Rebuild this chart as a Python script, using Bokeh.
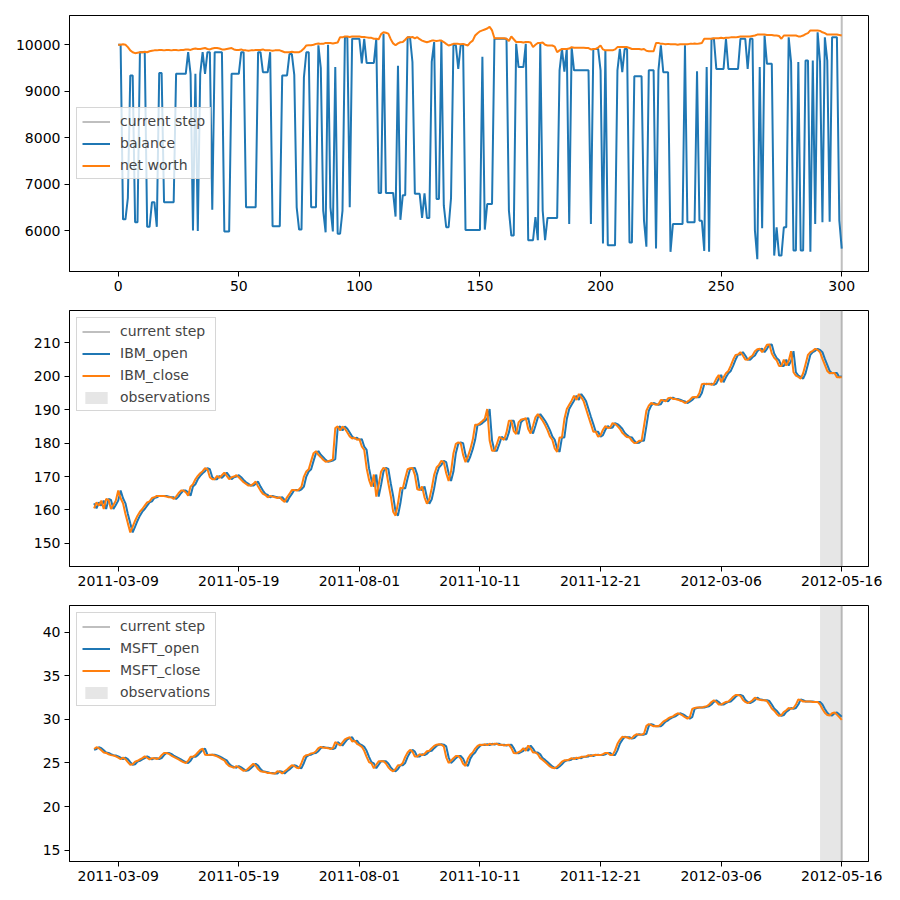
from bokeh.plotting import figure
from bokeh.models import Range1d, FixedTicker, Legend, LegendItem
from bokeh.layouts import column
from bokeh.embed import file_html
from bokeh.resources import INLINE

BLUE = "#1f77b4"
ORANGE = "#ff7f0e"
FONT = "DejaVu Sans"

current_step = 300
window_size = 10
balance_steps = list(range(0, 301))
stock_steps = list(range(-10, 301))
step_ticks = [0, 50, 100, 150, 200, 250, 300]
date_labels = ["2011-03-09", "2011-05-19", "2011-08-01", "2011-10-11",
               "2011-12-21", "2012-03-06", "2012-05-16"]
balance_yticks = [6000, 7000, 8000, 9000, 10000]
ibm_yticks = [150, 160, 170, 180, 190, 200, 210]
msft_yticks = [15, 20, 25, 30, 35, 40]

balance = [
    10000, 10000, 6240, 6240, 6700, 9340, 9340, 6180, 6180, 9840,
    9840, 9840, 6080, 6080, 6610, 6610, 6080, 9390, 9390, 6610,
    6610, 6610, 6610, 6610, 9375, 9375, 9375, 9375, 9375, 9840,
    9375, 6000, 9375, 5990, 9375, 9840, 9375, 9840, 9840, 6450,
    9840, 9840, 9840, 9840, 5980, 5980, 5980, 9375, 9375, 9375,
    9375, 9840, 9840, 6500, 6500, 6500, 6500, 6500, 9840, 9840,
    9410, 9410, 9410, 9840, 6090, 6090, 6090, 6090, 9340, 9340,
    9340, 9800, 9800, 9350, 6500, 6020, 6020, 9300, 9840, 9840,
    6500, 6500, 6500, 9990, 9500, 6430, 5960, 10000, 6500, 5980,
    9520, 5930, 5930, 6430, 10160, 10160, 6500, 10130, 10130, 10130,
    10130, 9600, 10130, 9610, 9610, 9610, 9610, 10130, 6810, 6810,
    10240, 6810, 6810, 6810, 6810, 6300, 9550, 6230, 6760, 6760,
    10160, 10160, 9630, 6790, 6790, 6790, 6270, 6800, 6270, 6270,
    9630, 10060, 6680, 6680, 10090, 6540, 6070, 6070, 6700, 10000,
    9990, 9480, 9990, 9990, 6010, 6010, 6010, 6010, 6010, 6010,
    6010, 9740, 6020, 6570, 6570, 6570, 10130, 10130, 10130, 10130,
    10130, 10130, 6430, 5890, 5890, 10020, 9520, 9520, 9520, 10020,
    5790, 5790, 5790, 6290, 5790, 10020, 6430, 5790, 6270, 6270,
    6270, 6270, 6270, 9450, 9910, 9420, 9910, 6140, 9950, 9450,
    9450, 9450, 9450, 9450, 9450, 9450, 6140, 9910, 9910, 9910,
    9450, 5720, 9880, 5680, 5680, 5680, 5680, 9450, 9910, 9410,
    9910, 9910, 5740, 5740, 9320, 9320, 9320, 9320, 6220, 5650,
    9450, 9450, 9450, 5610, 9450, 9990, 9410, 9410, 9410, 5540,
    6140, 6140, 6140, 6140, 6140, 9990, 6180, 6180, 6180, 6180,
    9430, 6210, 6210, 5560, 9520, 5540, 10130, 10130, 9480, 9480,
    9480, 9480, 10130, 9480, 9480, 9480, 9480, 9480, 10130, 10130,
    10130, 9480, 10130, 10130, 6000, 5380, 9520, 6050, 10200, 9590,
    9590, 9590, 5460, 6070, 5460, 5460, 6070, 6070, 10160, 9630,
    5570, 5570, 9630, 5570, 5570, 9660, 9660, 5540, 9660, 6140,
    10270, 9630, 6180, 10160, 9660, 6190, 10160, 10160, 10160, 6220,
    5610,
]

net_worth = [
    10000, 10000, 10010, 10000, 9950, 9880, 9840, 9820, 9830, 9840,
    9840, 9850, 9840, 9860, 9870, 9880, 9880, 9890, 9890, 9880,
    9890, 9890, 9880, 9890, 9890, 9880, 9890, 9890, 9900, 9900,
    9890, 9910, 9920, 9910, 9910, 9920, 9930, 9910, 9900, 9920,
    9930, 9930, 9920, 9900, 9900, 9910, 9920, 9930, 9900, 9890,
    9890, 9900, 9880, 9880, 9870, 9880, 9880, 9890, 9890, 9890,
    9900, 9880, 9880, 9880, 9870, 9880, 9880, 9880, 9860, 9840,
    9840, 9840, 9850, 9840, 9840, 9840, 9870, 9920, 9985, 9990,
    9990, 10000, 10020, 10030, 10020, 10020, 10040, 10040, 10040, 10030,
    10040, 10050, 10165, 10160, 10180, 10180, 10170, 10180, 10180, 10180,
    10180, 10170, 10170, 10160, 10150, 10150, 10130, 10130, 10120, 10230,
    10270, 10260, 10240, 10120, 10030, 9990, 10030, 10055, 10060, 10110,
    10165, 10160, 10170, 10140, 10165, 10120, 10090, 10070, 10055, 10070,
    10090, 10090, 10080, 10090, 10090, 10060, 10020, 9985, 10000, 10020,
    10020, 10020, 10010, 10020, 10000, 9985, 10050, 10090, 10200, 10250,
    10290, 10310, 10330, 10350, 10390, 10310, 10140, 10140, 10140, 10140,
    10140, 10130, 10080, 10180, 10120, 10060, 10060, 10060, 10050, 10060,
    10060, 10050, 9950, 10000, 10040, 10040, 10050, 10000, 9985, 9985,
    9985, 9960, 9840, 9880, 9910, 9910, 9910, 9920, 9950, 9935,
    9935, 9935, 9935, 9935, 9930, 9930, 9900, 9910, 9910, 9940,
    9985, 9900, 9880, 9880, 9880, 9880, 9900, 9950, 9950, 9950,
    9950, 9950, 9930, 9910, 9910, 9910, 9910, 9900, 9910, 9870,
    9860, 9860, 9860, 10040, 10040, 10020, 10020, 10010, 10020, 10010,
    10010, 10010, 10000, 10010, 10010, 10010, 10010, 10020, 10020, 10030,
    10020, 10030, 10040, 10130, 10130, 10130, 10130, 10140, 10140, 10140,
    10150, 10140, 10150, 10150, 10160, 10160, 10160, 10170, 10180, 10180,
    10180, 10180, 10180, 10190, 10200, 10220, 10220, 10220, 10220, 10210,
    10210, 10210, 10200, 10200, 10190, 10130, 10200, 10200, 10200, 10200,
    10200, 10200, 10180, 10180, 10200, 10230, 10250, 10310, 10310, 10310,
    10310, 10300, 10270, 10250, 10220, 10220, 10220, 10220, 10220, 10210,
    10200,
]

ibm_close = [
    160.5, 162.3, 161.3, 162.8, 160.3, 163.3, 163.0, 160.3, 161.5, 162.8,
    165.8, 163.5, 162.0, 158.8, 156.0, 153.3, 155.0, 156.8, 158.3, 159.5,
    160.3, 161.3, 162.3, 162.6, 163.6, 163.8, 164.2, 164.2, 164.2, 164.2,
    164.0, 163.8, 163.8, 163.3, 164.0, 165.0, 165.8, 165.8, 165.3, 164.3,
    167.0, 167.7, 169.2, 170.2, 171.0, 171.6, 172.5, 172.2, 169.8, 169.2,
    169.2, 170.2, 169.6, 170.4, 171.2, 170.2, 169.2, 169.8, 170.0, 170.4,
    169.8, 169.0, 168.3, 167.8, 167.3, 167.3, 167.8, 168.5, 167.0, 165.8,
    164.8, 164.5, 163.8, 164.2, 164.0, 163.8, 163.6, 163.8, 163.0, 162.4,
    163.8, 164.8, 166.0, 166.0, 165.8, 166.2, 167.0, 170.0, 171.5, 172.2,
    174.7, 177.0, 177.6, 176.5, 175.8, 175.0, 174.4, 174.6, 174.8, 175.2,
    184.5, 185.0, 183.8, 185.0, 184.3, 183.2, 182.0, 181.4, 181.6, 181.0,
    181.2, 179.0, 178.0, 172.5, 169.0, 167.0, 170.6, 164.0, 167.5, 171.5,
    172.6, 172.3, 168.0, 164.2, 159.5, 158.3, 162.0, 166.7, 166.4, 169.5,
    172.2, 172.5, 172.6, 170.5, 166.2, 166.0, 167.0, 163.8, 161.9, 163.2,
    166.5, 170.5, 172.7, 173.5, 174.7, 174.3, 171.0, 168.7, 171.5, 177.0,
    179.8, 180.2, 180.0, 176.5, 174.3, 176.0, 178.2, 181.0, 185.5, 185.5,
    186.0, 186.6, 187.3, 190.2, 180.8, 177.7, 177.7, 179.7, 181.9, 181.4,
    181.0, 183.2, 186.7, 186.7, 183.6, 182.7, 186.2, 187.0, 187.2, 187.5,
    184.2, 182.9, 185.2, 187.7, 188.7, 187.7, 186.7, 185.4, 183.9, 182.0,
    181.0, 178.4, 177.4, 181.7, 181.7, 187.2, 190.2, 191.5, 192.7, 194.2,
    192.9, 194.7, 193.7, 192.5, 190.2, 187.9, 185.7, 183.4, 183.4, 181.9,
    182.4, 184.0, 185.1, 184.5, 184.7, 186.0, 185.7, 185.1, 184.3, 183.1,
    182.4, 181.8, 181.7, 180.7, 180.0, 180.1, 180.7, 180.7, 185.1, 189.7,
    191.2, 192.0, 191.7, 191.5, 191.6, 192.9, 192.8, 192.5, 193.4, 193.6,
    193.2, 193.2, 193.0, 192.7, 192.5, 192.0, 192.4, 192.9, 193.7, 193.8,
    193.7, 195.0, 197.6, 197.8, 197.6, 197.8, 197.4, 197.8, 199.3, 200.4,
    198.2, 199.7, 200.9, 201.6, 203.2, 205.0, 206.4, 206.5, 207.2, 206.2,
    205.0, 204.9, 205.7, 206.2, 207.5, 208.1, 208.2, 207.2, 208.2, 209.4,
    209.5, 206.8, 205.5, 204.8, 203.1, 203.1, 205.0, 203.2, 204.6, 207.5,
    201.2, 200.2, 199.8, 199.3, 200.9, 203.6, 206.4, 207.2, 207.6, 208.2,
    207.9, 207.2, 205.2, 203.4, 201.6, 200.9, 201.0, 201.0, 199.7, 199.7,
    199.7,
]

ibm_open = [
    162.0, 160.5, 162.3, 161.3, 162.8, 160.3, 163.3, 163.0, 160.3, 161.5,
    162.8, 165.8, 163.5, 162.0, 158.8, 156.0, 153.3, 155.0, 156.8, 158.3,
    159.5, 160.3, 161.3, 162.3, 162.6, 163.6, 163.8, 164.2, 164.2, 164.2,
    164.2, 164.0, 163.8, 163.8, 163.3, 164.0, 165.0, 165.8, 165.8, 165.3,
    164.3, 167.0, 167.7, 169.2, 170.2, 171.0, 171.6, 172.5, 172.2, 169.8,
    169.2, 169.2, 170.2, 169.6, 170.4, 171.2, 170.2, 169.2, 169.8, 170.0,
    170.4, 169.8, 169.0, 168.3, 167.8, 167.3, 167.3, 167.8, 168.5, 167.0,
    165.8, 164.8, 164.5, 163.8, 164.2, 164.0, 163.8, 163.6, 163.8, 163.0,
    162.4, 163.8, 164.8, 166.0, 166.0, 165.8, 166.2, 167.0, 170.0, 171.5,
    172.2, 174.7, 177.0, 177.6, 176.5, 175.8, 175.0, 174.4, 174.6, 174.8,
    175.2, 184.5, 185.0, 183.8, 185.0, 184.3, 183.2, 182.0, 181.4, 181.6,
    181.0, 181.2, 179.0, 178.0, 172.5, 169.0, 167.0, 170.6, 164.0, 167.5,
    171.5, 172.6, 172.3, 168.0, 164.2, 159.5, 158.3, 162.0, 166.7, 166.4,
    169.5, 172.2, 172.5, 172.6, 170.5, 166.2, 166.0, 167.0, 163.8, 161.9,
    163.2, 166.5, 170.5, 172.7, 173.5, 174.7, 174.3, 171.0, 168.7, 171.5,
    177.0, 179.8, 180.2, 180.0, 176.5, 174.3, 176.0, 178.2, 181.0, 185.5,
    185.5, 186.0, 186.6, 187.3, 190.2, 180.8, 177.7, 177.7, 179.7, 181.9,
    181.4, 181.0, 183.2, 186.7, 186.7, 183.6, 182.7, 186.2, 187.0, 187.2,
    187.5, 184.2, 182.9, 185.2, 187.7, 188.7, 187.7, 186.7, 185.4, 183.9,
    182.0, 181.0, 178.4, 177.4, 181.7, 181.7, 187.2, 190.2, 191.5, 192.7,
    194.2, 192.9, 194.7, 193.7, 192.5, 190.2, 187.9, 185.7, 183.4, 183.4,
    181.9, 182.4, 184.0, 185.1, 184.5, 184.7, 186.0, 185.7, 185.1, 184.3,
    183.1, 182.4, 181.8, 181.7, 180.7, 180.0, 180.1, 180.7, 180.7, 185.1,
    189.7, 191.2, 192.0, 191.7, 191.5, 191.6, 192.9, 192.8, 192.5, 193.4,
    193.6, 193.2, 193.2, 193.0, 192.7, 192.5, 192.0, 192.4, 192.9, 193.7,
    193.8, 193.7, 195.0, 197.6, 197.8, 197.6, 197.8, 197.4, 197.8, 199.3,
    200.4, 198.2, 199.7, 200.9, 201.6, 203.2, 205.0, 206.4, 206.5, 207.2,
    206.2, 205.0, 204.9, 205.7, 206.2, 207.5, 208.1, 208.2, 207.2, 208.2,
    209.4, 209.5, 206.8, 205.5, 204.8, 203.1, 203.1, 205.0, 203.2, 204.6,
    207.5, 201.2, 200.2, 199.8, 199.3, 200.9, 203.6, 206.4, 207.2, 207.6,
    208.2, 207.9, 207.2, 205.2, 203.4, 201.6, 200.9, 201.0, 201.0, 199.7,
    200.0,
]

msft_close = [
    26.6, 26.8, 26.7, 26.45, 26.2, 26.15, 26.0, 25.9, 25.85, 25.75,
    25.6, 25.45, 25.6, 25.45, 25.1, 24.8, 24.85, 25.15, 25.25, 25.4,
    25.55, 25.75, 25.6, 25.4, 25.55, 25.55, 25.45, 25.55, 25.9, 26.15,
    26.15, 26.05, 25.85, 25.7, 25.55, 25.4, 25.25, 25.1, 25.0, 25.25,
    25.7, 25.7, 25.9, 26.2, 26.5, 26.65, 25.95, 25.9, 25.95, 25.95,
    25.85, 25.75, 25.6, 25.45, 25.3, 24.9, 24.65, 24.55, 24.45, 24.65,
    24.5, 24.3, 24.1, 24.15, 24.4, 24.65, 24.9, 24.7, 24.3, 24.05,
    24.0, 23.95, 23.85, 23.85, 23.8, 23.8, 24.05, 24.0, 23.8, 24.05,
    24.25, 24.5, 24.75, 24.65, 24.45, 24.4, 25.0, 25.7, 25.9, 25.95,
    26.1, 26.15, 26.35, 26.7, 26.85, 26.75, 26.75, 26.7, 26.6, 26.7,
    27.4, 27.2, 27.0, 27.35, 27.7, 27.85, 27.95, 27.45, 27.55, 27.2,
    27.05, 26.85, 26.4, 25.7, 25.1, 24.95, 24.4, 24.8, 25.2, 25.2,
    25.2, 24.95, 24.5, 24.2, 24.05, 24.3, 24.75, 24.75, 25.0, 25.7,
    26.2, 26.5, 26.3, 25.75, 25.75, 26.0, 25.9, 26.05, 26.35, 26.4,
    26.7, 26.95, 27.1, 27.15, 27.1, 26.9, 25.65, 25.0, 25.25, 25.55,
    25.8, 25.8, 25.5, 24.9, 24.65, 25.5, 25.95, 26.2, 26.65, 26.95,
    27.1, 27.05, 27.15, 27.05, 27.2, 27.1, 27.2, 27.2, 27.05, 27.1,
    27.0, 27.05, 27.1, 26.7, 26.15, 26.1, 26.25, 26.4, 26.7, 26.4,
    27.0, 26.65, 26.2, 26.2, 26.0, 25.55, 25.35, 25.1, 24.85, 24.6,
    24.45, 24.4, 24.6, 24.85, 25.15, 25.3, 25.3, 25.4, 25.55, 25.45,
    25.6, 25.55, 25.7, 25.7, 25.75, 25.9, 25.8, 25.9, 25.95, 25.9,
    25.9, 26.0, 26.15, 26.15, 25.9, 25.9, 26.45, 27.2, 27.65, 28.0,
    27.95, 27.95, 27.8, 27.85, 28.15, 28.3, 28.25, 28.25, 28.35, 29.25,
    29.45, 29.35, 29.2, 29.25, 29.2, 29.45, 29.75, 29.9, 30.1, 30.25,
    30.35, 30.55, 30.7, 30.6, 30.45, 30.25, 30.1, 30.25, 31.2, 31.3,
    31.35, 31.35, 31.35, 31.45, 31.5, 31.7, 32.0, 32.2, 32.0, 31.7,
    31.7, 31.85, 32.0, 32.05, 32.3, 32.6, 32.8, 32.8, 32.7, 32.25,
    32.0, 31.85, 32.0, 32.2, 32.5, 32.3, 32.25, 32.2, 32.2, 32.1,
    31.7, 31.25, 31.0, 30.65, 30.4, 30.5, 30.85, 31.05, 31.3, 31.2,
    31.3, 31.7, 32.3, 32.2, 32.05, 32.05, 32.05, 32.05, 32.0, 32.0,
    32.0, 31.7, 31.2, 30.75, 30.5, 30.45, 30.7, 30.8, 30.55, 30.25,
    29.95,
]

msft_open = [
    26.5, 26.6, 26.8, 26.7, 26.45, 26.2, 26.15, 26.0, 25.9, 25.85,
    25.75, 25.6, 25.45, 25.6, 25.45, 25.1, 24.8, 24.85, 25.15, 25.25,
    25.4, 25.55, 25.75, 25.6, 25.4, 25.55, 25.55, 25.45, 25.55, 25.9,
    26.15, 26.15, 26.05, 25.85, 25.7, 25.55, 25.4, 25.25, 25.1, 25.0,
    25.25, 25.7, 25.7, 25.9, 26.2, 26.5, 26.65, 25.95, 25.9, 25.95,
    25.95, 25.85, 25.75, 25.6, 25.45, 25.3, 24.9, 24.65, 24.55, 24.45,
    24.65, 24.5, 24.3, 24.1, 24.15, 24.4, 24.65, 24.9, 24.7, 24.3,
    24.05, 24.0, 23.95, 23.85, 23.85, 23.8, 23.8, 24.05, 24.0, 23.8,
    24.05, 24.25, 24.5, 24.75, 24.65, 24.45, 24.4, 25.0, 25.7, 25.9,
    25.95, 26.1, 26.15, 26.35, 26.7, 26.85, 26.75, 26.75, 26.7, 26.6,
    26.7, 27.4, 27.2, 27.0, 27.35, 27.7, 27.85, 27.95, 27.45, 27.55,
    27.2, 27.05, 26.85, 26.4, 25.7, 25.1, 24.95, 24.4, 24.8, 25.2,
    25.2, 25.2, 24.95, 24.5, 24.2, 24.05, 24.3, 24.75, 24.75, 25.0,
    25.7, 26.2, 26.5, 26.3, 25.75, 25.75, 26.0, 25.9, 26.05, 26.35,
    26.4, 26.7, 26.95, 27.1, 27.15, 27.1, 26.9, 25.65, 25.0, 25.25,
    25.55, 25.8, 25.8, 25.5, 24.9, 24.65, 25.5, 25.95, 26.2, 26.65,
    26.95, 27.1, 27.05, 27.15, 27.05, 27.2, 27.1, 27.2, 27.2, 27.05,
    27.1, 27.0, 27.05, 27.1, 26.7, 26.15, 26.1, 26.25, 26.4, 26.7,
    26.4, 27.0, 26.65, 26.2, 26.2, 26.0, 25.55, 25.35, 25.1, 24.85,
    24.6, 24.45, 24.4, 24.6, 24.85, 25.15, 25.3, 25.3, 25.4, 25.55,
    25.45, 25.6, 25.55, 25.7, 25.7, 25.75, 25.9, 25.8, 25.9, 25.95,
    25.9, 25.9, 26.0, 26.15, 26.15, 25.9, 25.9, 26.45, 27.2, 27.65,
    28.0, 27.95, 27.95, 27.8, 27.85, 28.15, 28.3, 28.25, 28.25, 28.35,
    29.25, 29.45, 29.35, 29.2, 29.25, 29.2, 29.45, 29.75, 29.9, 30.1,
    30.25, 30.35, 30.55, 30.7, 30.6, 30.45, 30.25, 30.1, 30.25, 31.2,
    31.3, 31.35, 31.35, 31.35, 31.45, 31.5, 31.7, 32.0, 32.2, 32.0,
    31.7, 31.7, 31.85, 32.0, 32.05, 32.3, 32.6, 32.8, 32.8, 32.7,
    32.25, 32.0, 31.85, 32.0, 32.2, 32.5, 32.3, 32.25, 32.2, 32.2,
    32.1, 31.7, 31.25, 31.0, 30.65, 30.4, 30.5, 30.85, 31.05, 31.3,
    31.2, 31.3, 31.7, 32.3, 32.2, 32.05, 32.05, 32.05, 32.05, 32.0,
    32.0, 32.0, 31.7, 31.2, 30.75, 30.5, 30.45, 30.7, 30.8, 30.55,
    30.3,
]

x_range = Range1d(-20.2, 311.1)


def make_fig(y_lo, y_hi, top_border, y_ticks, date_axis):
    p = figure(frame_width=799, frame_height=256, x_range=x_range,
               y_range=Range1d(y_lo, y_hi), output_backend="svg",
               toolbar_location=None, min_border_left=69, min_border_right=20,
               min_border_top=top_border, min_border_bottom=29)
    p.xgrid.visible = False
    p.ygrid.visible = False
    p.outline_line_color = "black"
    p.outline_line_alpha = 1.0
    p.outline_line_width = 1
    p.background_fill_color = "white"
    p.border_fill_color = "white"
    for ax in (p.xaxis[0], p.yaxis[0]):
        ax.axis_line_color = "black"
        ax.major_tick_line_color = "black"
        ax.major_tick_out = 5
        ax.major_tick_in = 0
        ax.minor_tick_line_color = None
        ax.major_label_text_font = FONT
        ax.major_label_text_font_size = "14px"
        ax.major_label_text_color = "black"
        ax.major_label_standoff = 4
    p.xaxis.ticker = FixedTicker(ticks=step_ticks)
    p.yaxis.ticker = FixedTicker(ticks=y_ticks)
    if date_axis:
        p.xaxis.major_label_overrides = {s: d for s, d in zip(step_ticks, date_labels)}
    return p


def make_legend(items, loc):
    return Legend(items=items, location=loc, margin=7, padding=5, spacing=6,
                  glyph_width=28, glyph_height=15, label_height=15,
                  label_standoff=10, label_text_font=FONT,
                  label_text_font_size="14px", border_line_color="#cccccc",
                  border_line_alpha=0.8, background_fill_alpha=0.8)


# --- top: balance / net worth
y_lo, y_hi = 5117, 10631
p1 = make_fig(y_lo, y_hi, 15, balance_yticks, False)
cur1 = p1.segment(x0=[current_step], y0=[y_lo], x1=[current_step], y1=[y_hi],
                  line_color="#808080", line_alpha=0.5, line_width=2)
bal = p1.line(balance_steps, balance, line_color=BLUE, line_width=2)
nw = p1.line(balance_steps, net_worth, line_color=ORANGE, line_width=2)
p1.add_layout(make_legend([
    LegendItem(label="current step", renderers=[cur1]),
    LegendItem(label="balance", renderers=[bal]),
    LegendItem(label="net worth", renderers=[nw]),
], "center_left"))


def stock_fig(y_lo, y_hi, y_ticks, open_vals, close_vals, name):
    p = make_fig(y_lo, y_hi, 10, y_ticks, True)
    obs = p.quad(left=[current_step - window_size + 1], right=[current_step],
                 bottom=[y_lo], top=[y_hi], fill_color="#808080",
                 fill_alpha=0.2, line_color=None)
    cur = p.segment(x0=[current_step], y0=[y_lo], x1=[current_step], y1=[y_hi],
                    line_color="#808080", line_alpha=0.5, line_width=2)
    o = p.line(stock_steps, open_vals, line_color=BLUE, line_width=2)
    c = p.line(stock_steps, close_vals, line_color=ORANGE, line_width=2)
    p.add_layout(make_legend([
        LegendItem(label="current step", renderers=[cur]),
        LegendItem(label=name + "_open", renderers=[o]),
        LegendItem(label=name + "_close", renderers=[c]),
        LegendItem(label="observations", renderers=[obs]),
    ], "top_left"))
    return p


p2 = stock_fig(143.1, 219.67, ibm_yticks, ibm_open, ibm_close, "IBM")
p3 = stock_fig(13.7, 43.06, msft_yticks, msft_open, msft_close, "MSFT")

layout = column(p1, p2, p3, spacing=0)
open("out.html", "w").write(file_html(layout, INLINE))
